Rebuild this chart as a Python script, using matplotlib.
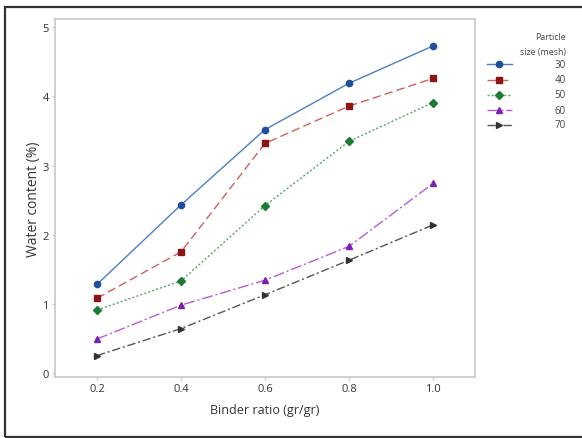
import matplotlib
matplotlib.use("Agg")
import matplotlib.pyplot as plt
from matplotlib.patches import Rectangle
from matplotlib.lines import Line2D

plt.rcParams['font.family'] = ['Open Sans', 'DejaVu Sans']

binder_ratio = [0.2, 0.4, 0.6, 0.8, 1.0]
series_labels = ["30", "40", "50", "60", "70"]
water_30 = [1.28, 2.43, 3.52, 4.19, 4.73]
water_40 = [1.08, 1.75, 3.32, 3.86, 4.26]
water_50 = [0.91, 1.33, 2.42, 3.35, 3.91]
water_60 = [0.49, 0.98, 1.34, 1.83, 2.74]
water_70 = [0.25, 0.64, 1.13, 1.63, 2.14]
x_ticks = [0.2, 0.4, 0.6, 0.8, 1.0]
x_tick_labels = ["0.2", "0.4", "0.6", "0.8", "1.0"]
y_ticks = [0, 1, 2, 3, 4, 5]

W, H = 582, 439
fig = plt.figure(figsize=(W / 100, H / 100), dpi=100)
fig.patch.set_facecolor("white")

def fx(px):
    return px / W

def fy(py):
    return 1 - py / H

# outer frame
fig.add_artist(Rectangle((fx(5), fy(438)), 1.2, (438 - 8) / H,
                         transform=fig.transFigure, fill=False,
                         edgecolor="#333333", linewidth=1.6, clip_on=False))

ax = fig.add_axes([fx(55), fy(378), (475 - 55) / W, (378 - 20) / H])

styles = [
    dict(color="#4a7fc6", mfc="#1f4f9a", mec="#1f4f9a", marker="o", ls="-", ms=4.5),
    dict(color="#d0605a", mfc="#8b1414", mec="#8b1414", marker="s", ls=(0, (6, 3)), ms=4.3),
    dict(color="#58a26a", mfc="#1d7a35", mec="#1d7a35", marker="D", ls=(0, (1.5, 1.5)), ms=3.8),
    dict(color="#b25fd6", mfc="#7a1fb0", mec="#7a1fb0", marker="^", ls=(0, (8, 2, 1.5, 2)), ms=5),
    dict(color="#555555", mfc="#333333", mec="#333333", marker=">", ls=(0, (6, 2, 1.5, 2)), ms=5),
]
series = [water_30, water_40, water_50, water_60, water_70]

for vals, lab, st in zip(series, series_labels, styles):
    ax.plot(binder_ratio, vals, color=st["color"], linestyle=st["ls"],
            linewidth=1.0, marker=st["marker"], markersize=st["ms"],
            markerfacecolor=st["mfc"], markeredgecolor=st["mec"], label=lab)

ax.set_xlim(0.1, 1.1)
ax.set_ylim(-0.06, 5.12)
ax.set_xticks(x_ticks)
ax.set_xticklabels(x_tick_labels)
ax.set_yticks(y_ticks)
for s in ax.spines.values():
    s.set_color("#c8c8c8")
    s.set_linewidth(1.2)
ax.tick_params(axis="both", colors="#c8c8c8", labelcolor="#333333",
               labelsize=8, length=2.5, pad=2)
ax.set_xlabel("Binder ratio (gr/gr)", fontsize=9, color="#333333", labelpad=6)
ax.set_ylabel("Water content (%)", fontsize=10, color="#333333", labelpad=1)

# legend (drawn in figure coordinates)
fig.text(fx(566), fy(37), "Particle", ha="right", va="center",
         fontsize=6.3, color="#444444")
fig.text(fx(566), fy(52), "size (mesh)", ha="right", va="center",
         fontsize=6.3, color="#444444")
row_y = [65, 80.5, 96, 111, 126]
for yy, lab, st in zip(row_y, series_labels, styles):
    fig.add_artist(Line2D([fx(487), fx(512)], [fy(yy), fy(yy)],
                          transform=fig.transFigure, color=st["color"],
                          linestyle=st["ls"], linewidth=1.0))
    fig.add_artist(Line2D([fx(499.5)], [fy(yy)], transform=fig.transFigure,
                          marker=st["marker"], markersize=st["ms"],
                          markerfacecolor=st["mfc"], markeredgecolor=st["mec"],
                          linestyle="none"))
    fig.text(fx(566), fy(yy), lab, ha="right", va="center",
             fontsize=7, color="#444444")

fig.savefig("out.png", dpi=100, facecolor="white")
